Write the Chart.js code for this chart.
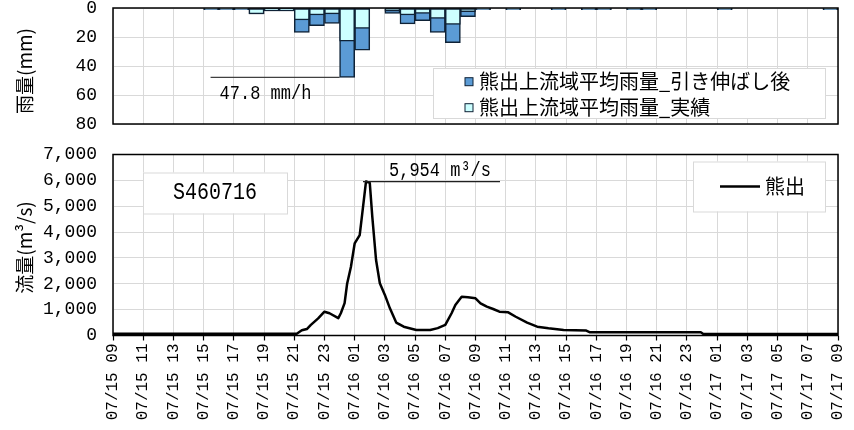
<!DOCTYPE html>
<html lang="ja">
<head>
<meta charset="utf-8">
<title>熊出 S460716</title>
<script src="https://cdn.jsdelivr.net/npm/chart.js@4.4.1/dist/chart.umd.min.js"></script>
<style>
  html, body { margin: 0; padding: 0; background: #fff; }
  #wrap { position: relative; width: 854px; height: 430px; overflow: hidden; }
  canvas { position: absolute; left: 0; }
  #rain { top: 0; }
  #flow { top: 140px; }
</style>
</head>
<body>
<div id="wrap">
  <canvas id="rain" width="854" height="140"></canvas>
  <canvas id="flow" width="854" height="290"></canvas>
</div>
<script>
// Time axis tick labels (every 2 hours)
const timeLabels = [
  '07/15 09', '07/15 11', '07/15 13', '07/15 15', '07/15 17', '07/15 19', '07/15 21', '07/15 23',
  '07/16 01', '07/16 03', '07/16 05', '07/16 07', '07/16 09', '07/16 11', '07/16 13', '07/16 15',
  '07/16 17', '07/16 19', '07/16 21', '07/16 23', '07/17 01', '07/17 03', '07/17 05', '07/17 07',
  '07/17 09'
];

// Hourly basin-average rainfall (mm), hour i covers [start + i h, start + i + 1 h)
const rainStretched = [
  0, 0, 0, 0, 0, 0, 1.2, 1.2, 1.2, 4.1, 2.0, 2.0,
  16.8, 12.2, 10.6, 47.8, 29.0, 0, 3.7, 11.0, 8.7, 16.8, 23.9, 6.0,
  1.2, 0, 1.2, 0, 0, 1.2, 0, 1.2, 1.2, 0, 1.2, 1.2,
  0, 0, 0, 0, 1.2, 0, 0, 0, 0, 0, 0, 1.2
];
const rainObserved = [
  0, 0, 0, 0, 0, 0, 0.5, 0.5, 0.5, 4.1, 2.0, 2.0,
  8.3, 4.8, 4.1, 22.8, 14.0, 0, 2.1, 4.8, 3.7, 7.1, 11.3, 2.5,
  0.5, 0, 0.5, 0, 0, 0.5, 0, 0.5, 0.5, 0, 0.5, 0.5,
  0, 0, 0, 0, 0.5, 0, 0, 0, 0, 0, 0, 0.5
];

// Discharge hydrograph at 熊出 (m3/s)
const flowTimes = [
  '07/15 09:00', '07/15 21:10', '07/15 21:30', '07/15 21:50', '07/15 22:05', '07/15 22:35',
  '07/15 23:00', '07/15 23:20', '07/15 23:55', '07/16 00:05', '07/16 00:20', '07/16 00:30',
  '07/16 00:45', '07/16 01:00', '07/16 01:20', '07/16 01:30', '07/16 01:45', '07/16 02:00',
  '07/16 02:10', '07/16 02:25', '07/16 02:40', '07/16 03:00', '07/16 03:20', '07/16 03:45',
  '07/16 04:15', '07/16 05:05', '07/16 06:00', '07/16 06:30', '07/16 07:00', '07/16 07:25',
  '07/16 07:40', '07/16 08:05', '07/16 08:30', '07/16 09:00', '07/16 09:20', '07/16 09:45',
  '07/16 10:10', '07/16 10:35', '07/16 11:10', '07/16 11:40', '07/16 12:25', '07/16 13:05',
  '07/16 13:50', '07/16 14:50', '07/16 16:20', '07/16 16:35', '07/16 23:55', '07/17 00:05',
  '07/17 09:00'
];
const flowValues = [
  70, 70, 200, 250, 400, 660,
  920, 860, 670, 860, 1250, 2000,
  2650, 3560, 3880, 4700, 5954, 5900,
  4600, 2920, 2020, 1570, 1050, 500,
  340, 215, 215, 285, 410, 860,
  1180, 1500, 1480, 1440, 1245, 1115,
  1025, 920, 895, 725, 495, 340,
  280, 215, 190, 125, 125, 60,
  60
];

const rainSeriesNames = ['熊出上流域平均雨量_引き伸ばし後', '熊出上流域平均雨量_実績'];
const flowSeriesName = '熊出';
const eventName = 'S460716';
const rainAxisTitle = '雨量(mm)';
const flowAxisTitle = '流量(m³/s)';

const MONO = '"Liberation Mono", "DejaVu Sans Mono", monospace';
const JP = '"Noto Sans CJK JP", "Noto Sans", sans-serif';
const GRID = '#d9d9d9';
const EDGE = '#0f2236';
const DARK_BLUE = '#5b9bd5';
const LIGHT_CYAN = '#ccffff';

// hours elapsed since the first tick label
const startDay = Number(timeLabels[0].slice(3, 5));
const startHour = Number(timeLabels[0].slice(6, 8));
function hoursFromStart(t) {
  const day = Number(t.slice(3, 5));
  const hh = Number(t.slice(6, 8));
  const mm = Number(t.slice(9, 11));
  return (day - startDay) * 24 + hh - startHour + mm / 60;
}
const spanHours = hoursFromStart(timeLabels[timeLabels.length - 1] + ':00');

Chart.defaults.color = '#000';
Chart.defaults.font.family = MONO;

const frame = {
  id: 'frame',
  afterDatasetsDraw(chart) {
    const { ctx, chartArea: a } = chart;
    ctx.save();
    ctx.strokeStyle = '#000';
    ctx.lineWidth = 1.5;
    ctx.strokeRect(a.left, a.top, a.right - a.left, a.bottom - a.top);
    ctx.restore();
  }
};

function yTitle(label, cy) {
  return {
    id: 'yTitle',
    afterDraw(chart) {
      const ctx = chart.ctx;
      ctx.save();
      ctx.translate(25, cy);
      ctx.rotate(-Math.PI / 2);
      ctx.font = `19px ${JP}`;
      ctx.fillStyle = '#000';
      ctx.textAlign = 'center';
      ctx.textBaseline = 'middle';
      ctx.fillText(label, 0, 0);
      ctx.restore();
    }
  };
}

function panel(ctx, x, y, w, h) {
  ctx.fillStyle = '#fff';
  ctx.fillRect(x, y, w, h);
  ctx.strokeStyle = GRID;
  ctx.lineWidth = 1;
  ctx.strokeRect(x + 0.5, y + 0.5, w, h);
}

function tallText(ctx, str, x, y, size, stretch, baseline, align) {
  ctx.save();
  ctx.translate(x, y);
  ctx.scale(1, stretch);
  ctx.font = `${size}px ${MONO}`;
  ctx.fillStyle = '#000';
  ctx.textBaseline = baseline || 'alphabetic';
  ctx.textAlign = align || 'left';
  ctx.fillText(str, 0, 0);
  ctx.restore();
}

const rainNotes = {
  id: 'rainNotes',
  afterDraw(chart) {
    const { ctx, chartArea: a, scales: { x, y } } = chart;
    const peak = Math.max(...rainStretched);
    const k = rainStretched.indexOf(peak);
    const py = y.getPixelForValue(peak);
    const xr = x.getPixelForValue(k);
    ctx.save();
    ctx.strokeStyle = '#404040';
    ctx.lineWidth = 1.2;
    ctx.beginPath();
    ctx.moveTo(xr - 129, py);
    ctx.lineTo(xr, py);
    ctx.stroke();
    tallText(ctx, `${peak.toFixed(1)} mm/h`, xr - 120, py + 21.5, 17, 1.2);

    // legend
    const lx = a.left + 320, ly = 68, lw = 392, lh = 50;
    panel(ctx, lx, ly, lw, lh);
    [[rainSeriesNames[0], DARK_BLUE], [rainSeriesNames[1], LIGHT_CYAN]].forEach(([name, fill], i) => {
      const cy = ly + 13.7 + i * 26;
      ctx.fillStyle = fill;
      ctx.fillRect(lx + 32, cy - 4, 8, 8);
      ctx.strokeStyle = EDGE;
      ctx.lineWidth = 1;
      ctx.strokeRect(lx + 32, cy - 4, 8, 8);
      ctx.fillStyle = '#000';
      ctx.font = `20px ${JP}`;
      ctx.textAlign = 'left';
      ctx.textBaseline = 'middle';
      ctx.fillText(name, lx + 46, cy);
    });
    ctx.restore();
  }
};

const flowNotes = {
  id: 'flowNotes',
  afterDraw(chart) {
    const { ctx, chartArea: a, scales: { x, y } } = chart;
    const peak = Math.max(...flowValues);
    const p = flowValues.indexOf(peak);
    const px = x.getPixelForValue(hoursFromStart(flowTimes[p]));
    const py = y.getPixelForValue(peak);
    ctx.save();
    ctx.strokeStyle = '#202020';
    ctx.lineWidth = 1.2;
    ctx.beginPath();
    ctx.moveTo(px - 3, py);
    ctx.lineTo(px + 134, py);
    ctx.stroke();
    tallText(ctx, `${peak.toLocaleString('en-US')} m³/s`, px + 23, py - 6, 17, 1.2);

    // event name box
    panel(ctx, a.left + 30, a.top + 18, 144, 41);
    tallText(ctx, eventName, a.left + 102, a.top + 38.5, 20, 1.15, 'middle', 'center');

    // legend
    const lx = a.right - 145, ly = a.top + 7;
    panel(ctx, lx, ly, 132, 50);
    ctx.strokeStyle = '#000';
    ctx.lineWidth = 2.5;
    ctx.beginPath();
    ctx.moveTo(lx + 27, ly + 25);
    ctx.lineTo(lx + 67, ly + 25);
    ctx.stroke();
    ctx.fillStyle = '#000';
    ctx.font = `20px ${JP}`;
    ctx.textAlign = 'left';
    ctx.textBaseline = 'middle';
    ctx.fillText(flowSeriesName, lx + 72, ly + 25);
    ctx.restore();
  }
};

function timeAxis(extra) {
  return Object.assign({
    type: 'linear',
    min: 0,
    max: spanHours,
    offset: false,
    afterBuildTicks: s => { s.ticks = timeLabels.map((_, i) => ({ value: i * 2 })); },
    border: { display: false }
  }, extra);
}

// Rainfall (inverted bars)
new Chart(document.getElementById('rain'), {
  type: 'bar',
  data: {
    datasets: [
      {
        label: rainSeriesNames[0],
        data: rainStretched.map((v, i) => ({ x: i + 0.5, y: v })),
        backgroundColor: DARK_BLUE,
        borderColor: EDGE,
        borderWidth: 1.5,
        borderSkipped: false,
        grouped: false,
        barPercentage: 1,
        categoryPercentage: 1,
        order: 1
      },
      {
        label: rainSeriesNames[1],
        data: rainObserved.map((v, i) => ({ x: i + 0.5, y: v })),
        backgroundColor: LIGHT_CYAN,
        borderColor: EDGE,
        borderWidth: 1.5,
        borderSkipped: false,
        grouped: false,
        barPercentage: 1,
        categoryPercentage: 1,
        order: 0
      }
    ]
  },
  options: {
    responsive: false,
    animation: false,
    devicePixelRatio: 1,
    layout: { padding: { left: 0, top: 8, right: 16, bottom: 16 } },
    scales: {
      x: timeAxis({
        ticks: { display: false },
        grid: { color: GRID, lineWidth: 1, offset: false, drawTicks: false },
        afterFit: s => { s.height = 0; s.paddingLeft = 0; s.paddingRight = 0; }
      }),
      y: {
        reverse: true,
        min: 0,
        max: 80,
        ticks: { stepSize: 20, padding: 16, font: { family: MONO, size: 18 }, color: '#000' },
        grid: { color: GRID, lineWidth: 1, drawTicks: false },
        border: { display: false },
        afterFit: s => { s.width = 113; s.paddingTop = 0; s.paddingBottom = 0; }
      }
    },
    plugins: { legend: { display: false }, tooltip: { enabled: false } }
  },
  plugins: [frame, rainNotes, yTitle(rainAxisTitle, 71)]
});

// Discharge hydrograph
new Chart(document.getElementById('flow'), {
  type: 'line',
  data: {
    datasets: [{
      label: flowSeriesName,
      data: flowTimes.map((t, i) => ({ x: hoursFromStart(t), y: flowValues[i] })),
      borderColor: '#000',
      borderWidth: 2.5,
      borderJoinStyle: 'round',
      pointRadius: 0,
      tension: 0,
      fill: false
    }]
  },
  options: {
    responsive: false,
    animation: false,
    devicePixelRatio: 1,
    layout: { padding: { left: 0, top: 14.5, right: 16, bottom: 0 } },
    scales: {
      x: timeAxis({
        ticks: {
          autoSkip: false,
          minRotation: 90,
          maxRotation: 90,
          padding: 3,
          font: { family: MONO, size: 16 },
          color: '#000',
          callback: (v, i) => timeLabels[i]
        },
        grid: { color: GRID, lineWidth: 1, offset: false, drawTicks: true, tickLength: 5, tickColor: '#000', tickWidth: 1.2 },
        afterFit: s => { s.height = 94.5; s.paddingLeft = 0; s.paddingRight = 0; }
      }),
      y: {
        min: 0,
        max: 7000,
        ticks: {
          stepSize: 1000,
          padding: 16,
          font: { family: MONO, size: 18 },
          color: '#000',
          callback: v => v.toLocaleString('en-US')
        },
        grid: { color: GRID, lineWidth: 1, drawTicks: false },
        border: { display: false },
        afterFit: s => { s.width = 113; s.paddingTop = 0; s.paddingBottom = 0; }
      }
    },
    plugins: { legend: { display: false }, tooltip: { enabled: false } }
  },
  plugins: [frame, flowNotes, yTitle(flowAxisTitle, 107.5)]
});
</script>
</body>
</html>
